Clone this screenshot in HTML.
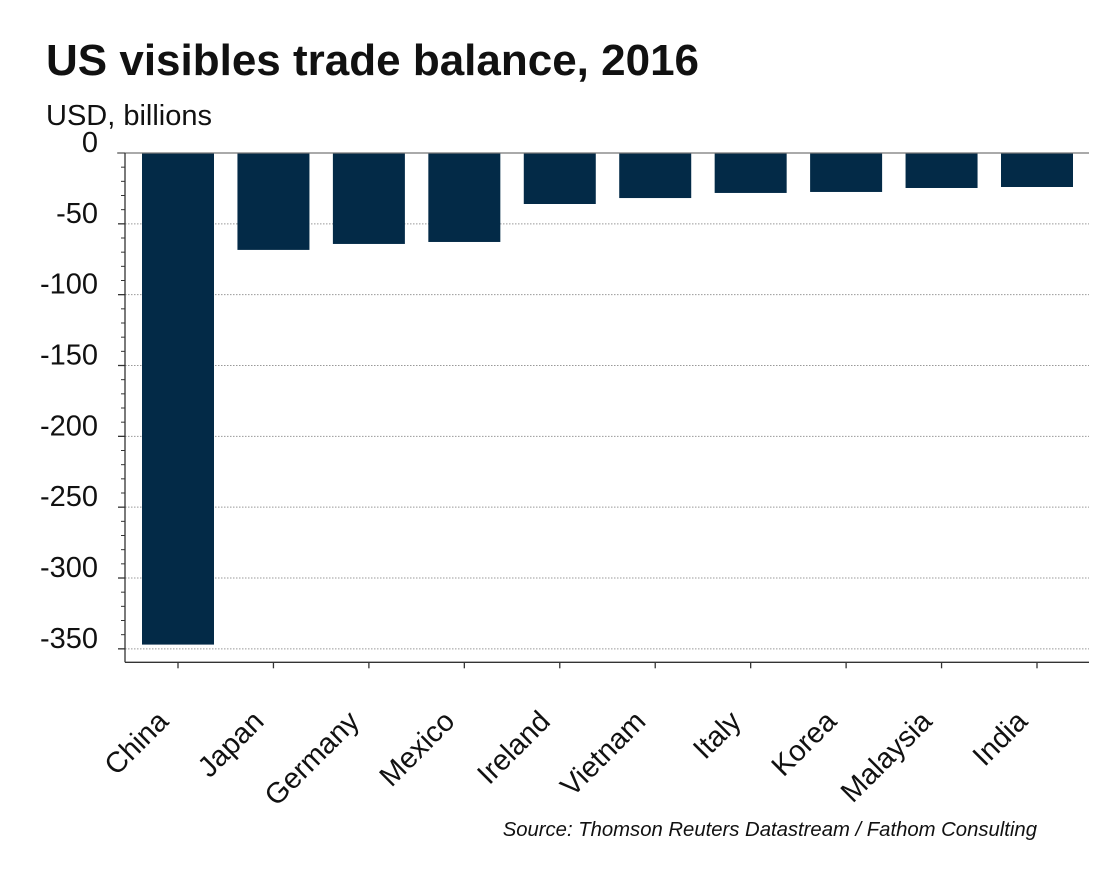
<!DOCTYPE html>
<html><head><meta charset="utf-8"><style>
body{margin:0;background:#fff;}
svg{display:block;font-family:"Liberation Sans",Arial,sans-serif;}
</style></head><body>
<svg id="chart" width="1114" height="880">
<text x="46" y="75" font-size="44" font-weight="bold" fill="#111">US visibles trade balance, 2016</text>
<text x="46" y="125" font-size="29" fill="#111">USD, billions</text>
<text x="1037" y="836" font-size="20.3" font-style="italic" fill="#111" text-anchor="end">Source: Thomson Reuters Datastream / Fathom Consulting</text>
<g id="grid"></g><g id="bars"></g><g id="axes"></g>
</svg>
<script>
const categories=["China","Japan","Germany","Mexico","Ireland","Vietnam","Italy","Korea","Malaysia","India"];
const values=[-347,-68.4,-64.2,-62.8,-36,-31.8,-28.2,-27.5,-24.7,-24];
const yTicks=[0,-50,-100,-150,-200,-250,-300,-350];
const yMin=-359.5,yMax=0;
const X0=125,X1=1089,Y0=153,Y1=662.3;
const firstC=178,lastC=1037;
const ns="http://www.w3.org/2000/svg";
const yS=v=>Y0+(yMax-v)/(yMax-yMin)*(Y1-Y0);
const step=(lastC-firstC)/(categories.length-1);
const xS=i=>firstC+step*i;
function mk(tag,attrs,parent){const e=document.createElementNS(ns,tag);for(const k in attrs)e.setAttribute(k,attrs[k]);document.getElementById(parent).appendChild(e);return e;}
yTicks.forEach(t=>{
  if(t!==0){const g=mk('line',{x1:X0,x2:X1,y1:yS(t),y2:yS(t),stroke:'#999','stroke-width':1,'stroke-dasharray':'1.5,1.5'},'grid');
  
  }
  const l=mk('text',{x:98,y:yS(t)-1,'font-size':29,'text-anchor':'end',fill:'#111'},'axes');
  l.textContent=String(t);
  
  
  const tk=mk('line',{x1:X0-7,x2:X0,y1:yS(t),y2:yS(t),stroke:'#333','stroke-width':1.3},'axes');
  
  
});
for(let v=-10;v>yMin;v-=10){if(v%50===0)continue;
  const tk=mk('line',{x1:X0-4,x2:X0,y1:yS(v),y2:yS(v),stroke:'#333','stroke-width':1},'axes');
  
  }
categories.forEach((c,i)=>{
  const w=72,v=values[i];
  const b=mk('rect',{x:xS(i)-w/2,y:yS(0),width:w,height:yS(v)-yS(0),fill:'#032a47'},'bars');
  
  
  const tk=mk('line',{x1:xS(i),x2:xS(i),y1:Y1,y2:Y1+6,stroke:'#333','stroke-width':1.3},'axes');
  
  
  const ax=xS(i)-8,ay=723;
  const t=mk('text',{x:ax,y:ay,'font-size':29,'text-anchor':'end',fill:'#111',transform:`rotate(-45 ${ax} ${ay})`},'axes');
  t.textContent=c;
  
  
});
const z=mk('line',{x1:X0-8,x2:X1,y1:Y0,y2:Y0,stroke:'#777','stroke-width':1.3},'axes');


const ya=mk('line',{x1:X0,x2:X0,y1:Y0,y2:Y1,stroke:'#333','stroke-width':1.3},'axes');


const xa=mk('line',{x1:X0,x2:X1,y1:Y1,y2:Y1,stroke:'#333','stroke-width':1.3},'axes');


</script>
</body></html>
